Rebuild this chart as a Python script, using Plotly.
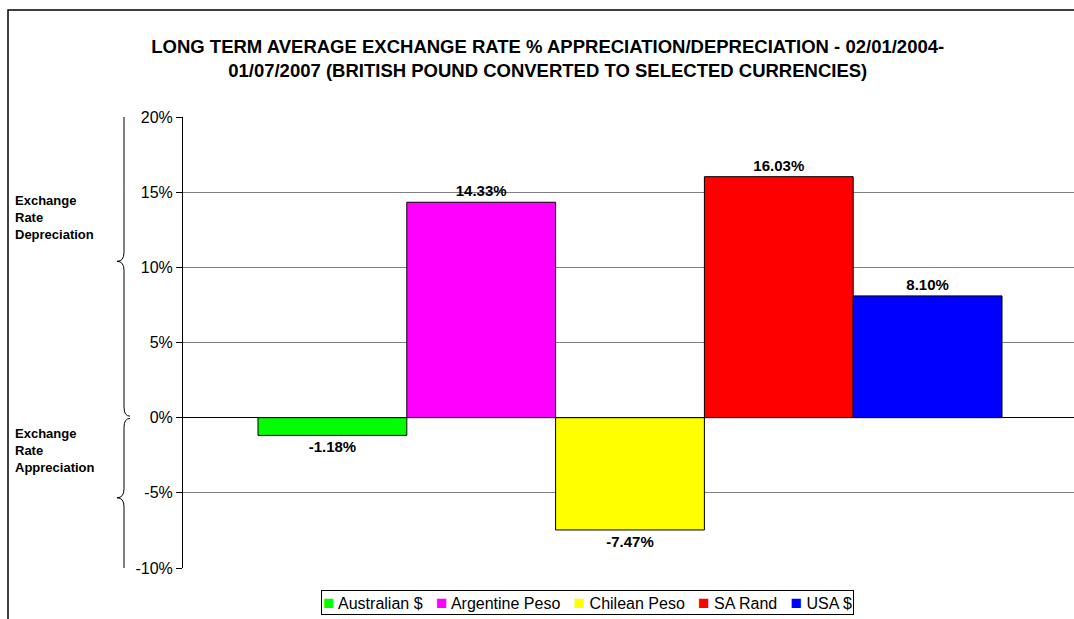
import plotly.graph_objects as go

currencies = ["Australian $", "Argentine Peso", "Chilean Peso", "SA Rand", "USA $"]
change_pct = [-1.18, 14.33, -7.47, 16.03, 8.10]
colors = ["#00FF00", "#FF00FF", "#FFFF00", "#FF0000", "#0000FF"]
tick_vals = [-10, -5, 0, 5, 10, 15, 20]
tick_text = [f"{v}%" for v in tick_vals]

W, H = 1074, 619
L, R, T, B = 183, 0, 117, 51
FONT = "Arial, Liberation Sans, sans-serif"


def px_x(px):
    # pixel -> paper x
    return (px - L) / (W - L - R)


def px_y(py):
    # pixel -> paper y
    return (H - B - py) / (H - T - B)


def brace(y_top, y_mid, y_bot, x_out=130, x_in=124, x_tip=117):
    a, b, c = px_x(x_out), px_x(x_in), px_x(x_tip)
    d = 0.6
    return (f"M {a},{y_top} Q {b},{y_top} {b},{y_top - d} "
            f"L {b},{y_mid + d} Q {b},{y_mid} {c},{y_mid} "
            f"Q {b},{y_mid} {b},{y_mid - d} "
            f"L {b},{y_bot + d} Q {b},{y_bot} {a},{y_bot}")


fig = go.Figure()
for i, (name, val, col) in enumerate(zip(currencies, change_pct, colors)):
    fig.add_trace(go.Bar(
        x=[i], y=[val], name=name, width=1,
        marker=dict(color=col, line=dict(color="black", width=1)),
        text=[f"{val:.2f}%"], textposition="outside",
        textfont=dict(family=FONT, size=15, color="black", weight="bold"),
        cliponaxis=False,
    ))

# bar slot is ~148.8 px wide, plot starts 75 px before first bar
slot = 148.8
x0 = -0.5 - 75 / slot
fig.update_layout(
    width=W, height=H,
    margin=dict(l=L, r=R, t=T, b=B),
    barmode="overlay",
    plot_bgcolor="white", paper_bgcolor="white",
    font=dict(family=FONT, size=16, color="black"),
    title=dict(
        text="<b>LONG TERM AVERAGE EXCHANGE RATE % APPRECIATION/DEPRECIATION - 02/01/2004-<br>"
             "01/07/2007 (BRITISH POUND CONVERTED TO SELECTED CURRENCIES)</b>",
        x=0.51, xanchor="center", y=1 - 53 / H, yanchor="middle",
        font=dict(family=FONT, size=18.5, color="black"),
    ),
    xaxis=dict(showticklabels=False, showgrid=False, zeroline=False,
               range=[x0, x0 + (W - L - R) / slot], fixedrange=True),
    yaxis=dict(range=[-10, 20], tickmode="array", tickvals=tick_vals, ticktext=tick_text,
               showgrid=True, gridcolor="#808080", gridwidth=1,
               zeroline=True, zerolinecolor="black", zerolinewidth=1,
               showline=True, linecolor="black", linewidth=1,
               ticks="outside", ticklen=6, tickcolor="black",
               tickfont=dict(size=16)),
    showlegend=False,
)

# legend drawn as one boxed line of text
legend_text = "&nbsp;&nbsp; ".join(
    f'<span style="color:{c};font-size:19px">■</span> {n}' for n, c in zip(currencies, colors)
)
fig.add_annotation(xref="paper", yref="paper", x=px_x(587), y=px_y(602),
                   text=legend_text, showarrow=False,
                   xanchor="center", yanchor="middle",
                   bordercolor="black", borderwidth=1, borderpad=1,
                   bgcolor="white", font=dict(size=16))

# outer chart border
fig.add_shape(type="rect", xref="paper", yref="paper",
              x0=px_x(8), y0=px_y(640), x1=px_x(1090), y1=px_y(10),
              line=dict(color="black", width=1.5), layer="below")

# braces on the left
fig.add_shape(type="path", xref="paper", yref="y",
              path=brace(20.8, 10.4, 0.1), line=dict(color="black", width=1))
fig.add_shape(type="path", xref="paper", yref="y",
              path=brace(-0.05, -5.33, -10.67), line=dict(color="black", width=1))

fig.add_annotation(xref="paper", yref="y", x=px_x(13), y=(417 - 217) / 15,
                   text="<b>Exchange<br>Rate<br>Depreciation</b>", showarrow=False,
                   xanchor="left", yanchor="middle", align="left",
                   font=dict(size=13))
fig.add_annotation(xref="paper", yref="y", x=px_x(13), y=(417 - 450) / 15,
                   text="<b>Exchange<br>Rate<br>Appreciation</b>", showarrow=False,
                   xanchor="left", yanchor="middle", align="left",
                   font=dict(size=13))

fig.write_html("out.html", config={"displayModeBar": False},
               post_script="document.body.style.margin='0';")
